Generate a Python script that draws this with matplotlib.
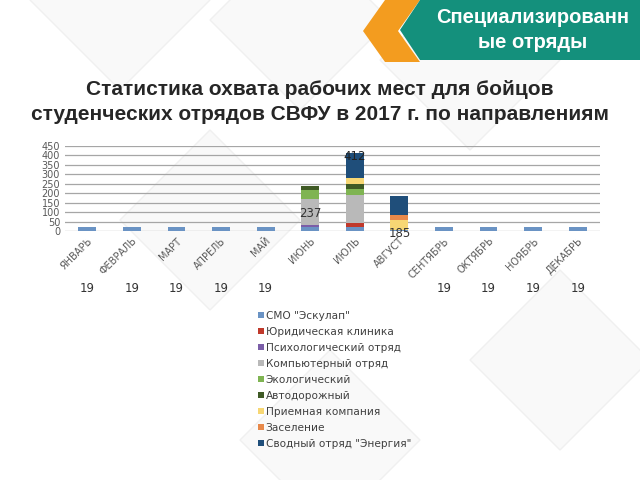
import numpy as np
import matplotlib
matplotlib.use("Agg")
import matplotlib.pyplot as plt
from matplotlib.patches import Polygon

months = ["ЯНВАРЬ", "ФЕВРАЛЬ", "МАРТ", "АПРЕЛЬ", "МАЙ", "ИЮНЬ", "ИЮЛЬ",
          "АВГУСТ", "СЕНТЯБРЬ", "ОКТЯБРЬ", "НОЯБРЬ", "ДЕКАБРЬ"]

series_names = ['СМО "Эскулап"', "Юридическая клиника", "Психологический отряд",
                "Компьютерный отряд", "Экологический", "Автодорожный",
                "Приемная компания", "Заселение", 'Сводный отряд "Энергия"']

# values per month for each series
eskulap   = [19, 19, 19, 19, 19, 19, 19, 7, 19, 19, 19, 19]
yurist    = [0, 0, 0, 0, 0, 0, 21, 0, 0, 0, 0, 0]
psiholog  = [0, 0, 0, 0, 0, 12, 0, 0, 0, 0, 0, 0]
komp      = [0, 0, 0, 0, 0, 140, 150, 0, 0, 0, 0, 0]
ekolog    = [0, 0, 0, 0, 0, 44, 32, 0, 0, 0, 0, 0]
avtodor   = [0, 0, 0, 0, 0, 22, 25, 0, 0, 0, 0, 0]
priem     = [0, 0, 0, 0, 0, 0, 35, 50, 0, 0, 0, 0]
zaselenie = [0, 0, 0, 0, 0, 0, 0, 27, 0, 0, 0, 0]
energia   = [0, 0, 0, 0, 0, 0, 130, 101, 0, 0, 0, 0]

colors = ["#6a93c4", "#c0392b", "#7b5ea8", "#b9b9b9", "#7fb452",
          "#3f5a25", "#f7d774", "#e8894a", "#1f4e7a"]

totals_lbl = ["19", "19", "19", "19", "19", "237", "412", "185", "19", "19", "19", "19"]

fig = plt.figure(figsize=(6.4, 4.8), dpi=100)

# faint background diamonds
bg = fig.add_axes([0, 0, 1, 1])
bg.set_xlim(0, 640)
bg.set_ylim(480, 0)
bg.axis("off")
for cx, cy in [(120, 0), (300, 20), (470, 60), (210, 220), (560, 360), (330, 440)]:
    bg.add_patch(Polygon([(cx - 90, cy), (cx, cy - 90), (cx + 90, cy), (cx, cy + 90)],
                         closed=True, fc="#f9f9f9", ec="#f0f0f0", lw=1, zorder=0))

# header banner
bg.add_patch(Polygon([(385, 0), (420, 0), (398, 31), (420, 62), (385, 62), (363, 31)],
                     closed=True, fc="#f39c1f", ec="none"))
bg.add_patch(Polygon([(420, 0), (640, 0), (640, 60), (420, 60), (400, 30)],
                     closed=True, fc="#14907c", ec="none"))
bg.text(533, 30, "Специализированн\nые отряды", color="white", fontsize=14.5,
        fontweight="bold", ha="center", va="center", linespacing=1.4,
        family="Liberation Sans")

fig.text(0.5, 1 - 102 / 480, "Статистика охвата рабочих мест для бойцов\n"
         "студенческих отрядов СВФУ в 2017 г. по направлениям",
         ha="center", va="center", fontsize=15, fontweight="bold",
         color="#262626", linespacing=1.4, family="Liberation Sans")

ax = fig.add_axes([65 / 640, 1 - 231 / 480, 535 / 640, 85 / 480])
ax.patch.set_alpha(0)
x = np.arange(len(months))
data = [eskulap, yurist, psiholog, komp, ekolog, avtodor, priem, zaselenie, energia]
bottom = np.zeros(len(months))
for vals, name, c in zip(data, series_names, colors):
    ax.bar(x, vals, 0.4, bottom=bottom, color=c, label=name, zorder=3)
    bottom += np.array(vals)

ax.set_xlim(-0.5, len(months) - 0.5)
ax.set_ylim(0, 450)
ax.set_yticks(range(0, 451, 50))
ax.grid(axis="y", color="#a6a6a6", lw=0.9, zorder=0)
for s in ax.spines.values():
    s.set_visible(False)
ax.tick_params(axis="both", length=0, labelsize=7, labelcolor="#595959")
ax.set_xticks(x)
ax.set_xticklabels(months, rotation=45, ha="right", rotation_mode="anchor")

# data labels
for i, lbl in enumerate(totals_lbl):
    if i == 5:
        ax.text(i, 90, lbl, ha="center", va="center", fontsize=8.5, color="#333333", zorder=5)
    elif i == 6:
        ax.text(i, bottom[i] - 15, lbl, ha="center", va="center", fontsize=8.5,
                color="#222222", zorder=5)
    elif i == 7:
        ax.text(i, -15, lbl, ha="center", va="center", fontsize=8.5, color="#333333", zorder=5)
    else:
        ax.text(i, -305, lbl, ha="center", va="center", fontsize=8.5, color="#333333")

leg = fig.legend(loc="upper left", bbox_to_anchor=(254 / 640, 1 - 307 / 480),
                 frameon=False, fontsize=7.6, handlelength=0.5, handleheight=0.5,
                 handletextpad=0.2, labelspacing=0.56, borderaxespad=0)
for t in leg.get_texts():
    t.set_color("#404040")

plt.savefig("out.png", dpi=100)
